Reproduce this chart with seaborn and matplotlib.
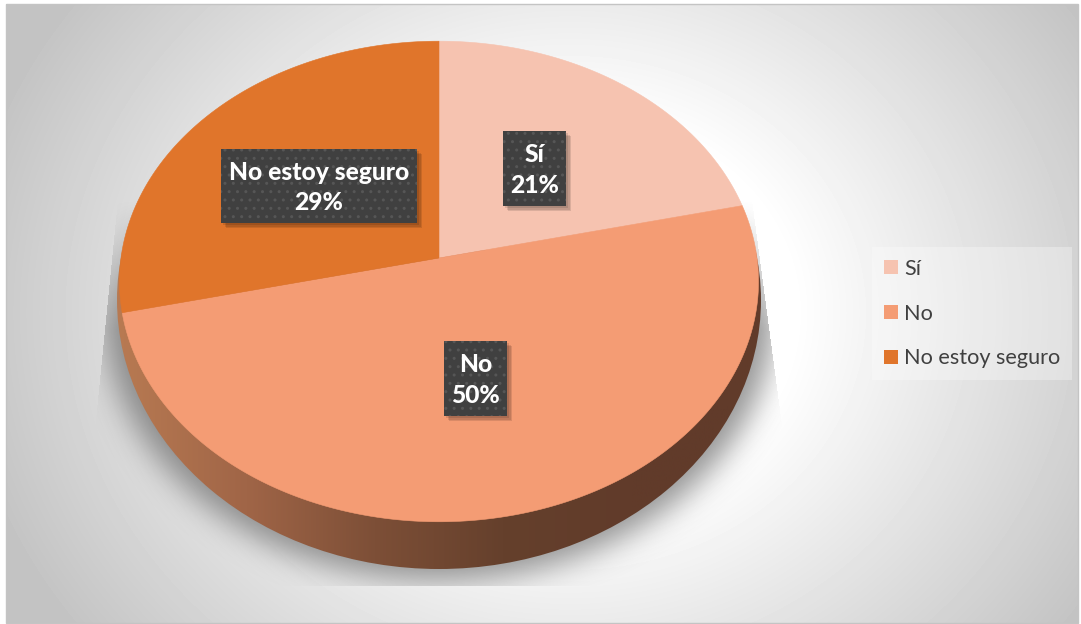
import numpy as np
import matplotlib
matplotlib.use("Agg")
import matplotlib.pyplot as plt
import seaborn as sns
from matplotlib.patches import Ellipse, Polygon, Rectangle

categories = ["Sí", "No", "No estoy seguro"]
shares = [21, 50, 29]
slice_colors = ["#F6C3B0", "#F49C74", "#E0752B"]

W, H = 1081, 624
CX, APEX_Y = 439, 258  # where the slices meet on the tilted disc
FOCAL = 0.0977
RX, RY = 318, 238

sns.set_theme(style="white")
plt.rcParams["font.family"] = ["Lato", "DejaVu Sans"]

fig = plt.figure(figsize=(W / 100, H / 100), dpi=100, facecolor="white")
ax = fig.add_axes([0, 0, 1, 1])
wedges, _ = ax.pie(shares, colors=slice_colors, startangle=90, counterclock=False)
spans = [(w.theta1, w.theta2) for w in wedges]
for w in wedges:
    w.remove()
ax.set_aspect("auto")
ax.set_xlim(0, W)
ax.set_ylim(H, 0)
ax.axis("off")


def tilt(theta_deg):
    """Project points of the unit circle on to the tilted disc."""
    t = np.radians(theta_deg - 1.5 * np.cos(np.radians(theta_deg)) ** 2)
    u, v = np.cos(t), np.sin(t)
    d = 1 + FOCAL * v
    return CX + RX * u / d, APEX_Y - RY * v / d


# panel background: white centre fading to grey toward the corners
L, T, R, B = 6, 4, 1078, 623
yy, xx = np.mgrid[0:H, 0:W] + 0.5
reach = np.hypot((xx - 570) / 510, 0.7 * (yy - 313) / 310)
panel = np.clip((255 - 78 * np.clip(reach - 0.44, 0, None)) / 255, 0.765, 1)
bg = ax.imshow(panel, cmap="gray", vmin=0, vmax=1, extent=(0, W, H, 0), zorder=0,
               aspect="auto", interpolation="bilinear")
bg.set_clip_path(Rectangle((L, T), R - L, B - T, transform=ax.transData))
ax.add_patch(Rectangle((L, T), R - L, B - T, fill=False, ec="#c4c4c4", lw=1, zorder=0.5))


def box_blur(a, r):
    k = np.ones(2 * r + 1) / (2 * r + 1)
    a = np.apply_along_axis(lambda m: np.convolve(m, k, mode="same"), 0, a)
    return np.apply_along_axis(lambda m: np.convolve(m, k, mode="same"), 1, a)


# cast shadow under the disc: soft below, cut along slanted sides above
soft = ((((xx - CX) / 335) ** 2 + ((yy - 312) / 268) ** 2) <= 1).astype(float)
for _ in range(3):
    soft = box_blur(soft, 14)
left_edge = 118 + (97 - 118) * (yy - 200) / 210
right_edge = 760 + (780 - 760) * (yy - 260) / 150
inside = (xx > left_edge) & (xx < right_edge) & (yy < 586)
fade_in = np.clip((yy - 200) / 130, 0, 1)
rgba = np.zeros((H, W, 4))
rgba[..., :3] = 0.4
rgba[..., 3] = soft * inside * fade_in * 0.7
ax.imshow(rgba, extent=(0, W, H, 0), zorder=1, aspect="auto", interpolation="bilinear")

# side wall of the disc, shaded from left to right
wall_cmap = sns.blend_palette(["#B87A52", "#A06547", "#7D4F37", "#65402C", "#613B2A", "#613B2A"], as_cmap=True)
ramp = np.linspace(0, 1, 256)[None, :]
wall = ax.imshow(ramp, cmap=wall_cmap, extent=(117, 761, 569, 250), zorder=2, aspect="auto")
wall.set_clip_path(Ellipse((CX, 300), 644, 538, transform=ax.transData))

# top face of the disc
for (t1, t2), color in zip(spans, slice_colors):
    th = np.linspace(t1, t2, 240)
    x, y = tilt(th)
    pts = np.column_stack([np.r_[CX, x], np.r_[APEX_Y, y]])
    ax.add_patch(Polygon(pts, closed=True, fc=color, ec=color, lw=0.4, zorder=3))

# value labels on dark boxes with a soft drop shadow
label_boxes = [(503, 131, 63, 75), (444, 341, 63, 75), (221, 149, 196, 74)]
for name, share, (bx, by, bw, bh) in zip(categories, shares, label_boxes):
    for off in (2, 3.5, 5):
        ax.add_patch(Rectangle((bx + off, by + off), bw, bh, fc="black", alpha=0.11, lw=0, zorder=4))
    ax.add_patch(Rectangle((bx, by), bw, bh, fc="#404040", ec="#565656", hatch="..", lw=0, zorder=5))
    ax.text(bx + bw / 2, by + bh / 2 + 1.5, f"{name}\n{share}%", color="white", fontsize=17.7,
            fontweight="black", ha="center", va="center", linespacing=1.42, zorder=6)

handles = [Rectangle((0, 0), 1, 1, fc=c, lw=0) for c in slice_colors]
leg = ax.legend(handles, categories, loc="upper left", bbox_to_anchor=(872 / W, 1 - 247 / H),
                bbox_transform=fig.transFigure, frameon=True, fancybox=False, framealpha=0.3,
                facecolor="white", edgecolor="none", fontsize=15.6, labelcolor="#404040",
                handlelength=0.64, handleheight=0.64, handletextpad=0.28, labelspacing=1.14,
                borderaxespad=0, borderpad=0.55)
leg.set_zorder(7)

fig.savefig("out.png", dpi=100)
